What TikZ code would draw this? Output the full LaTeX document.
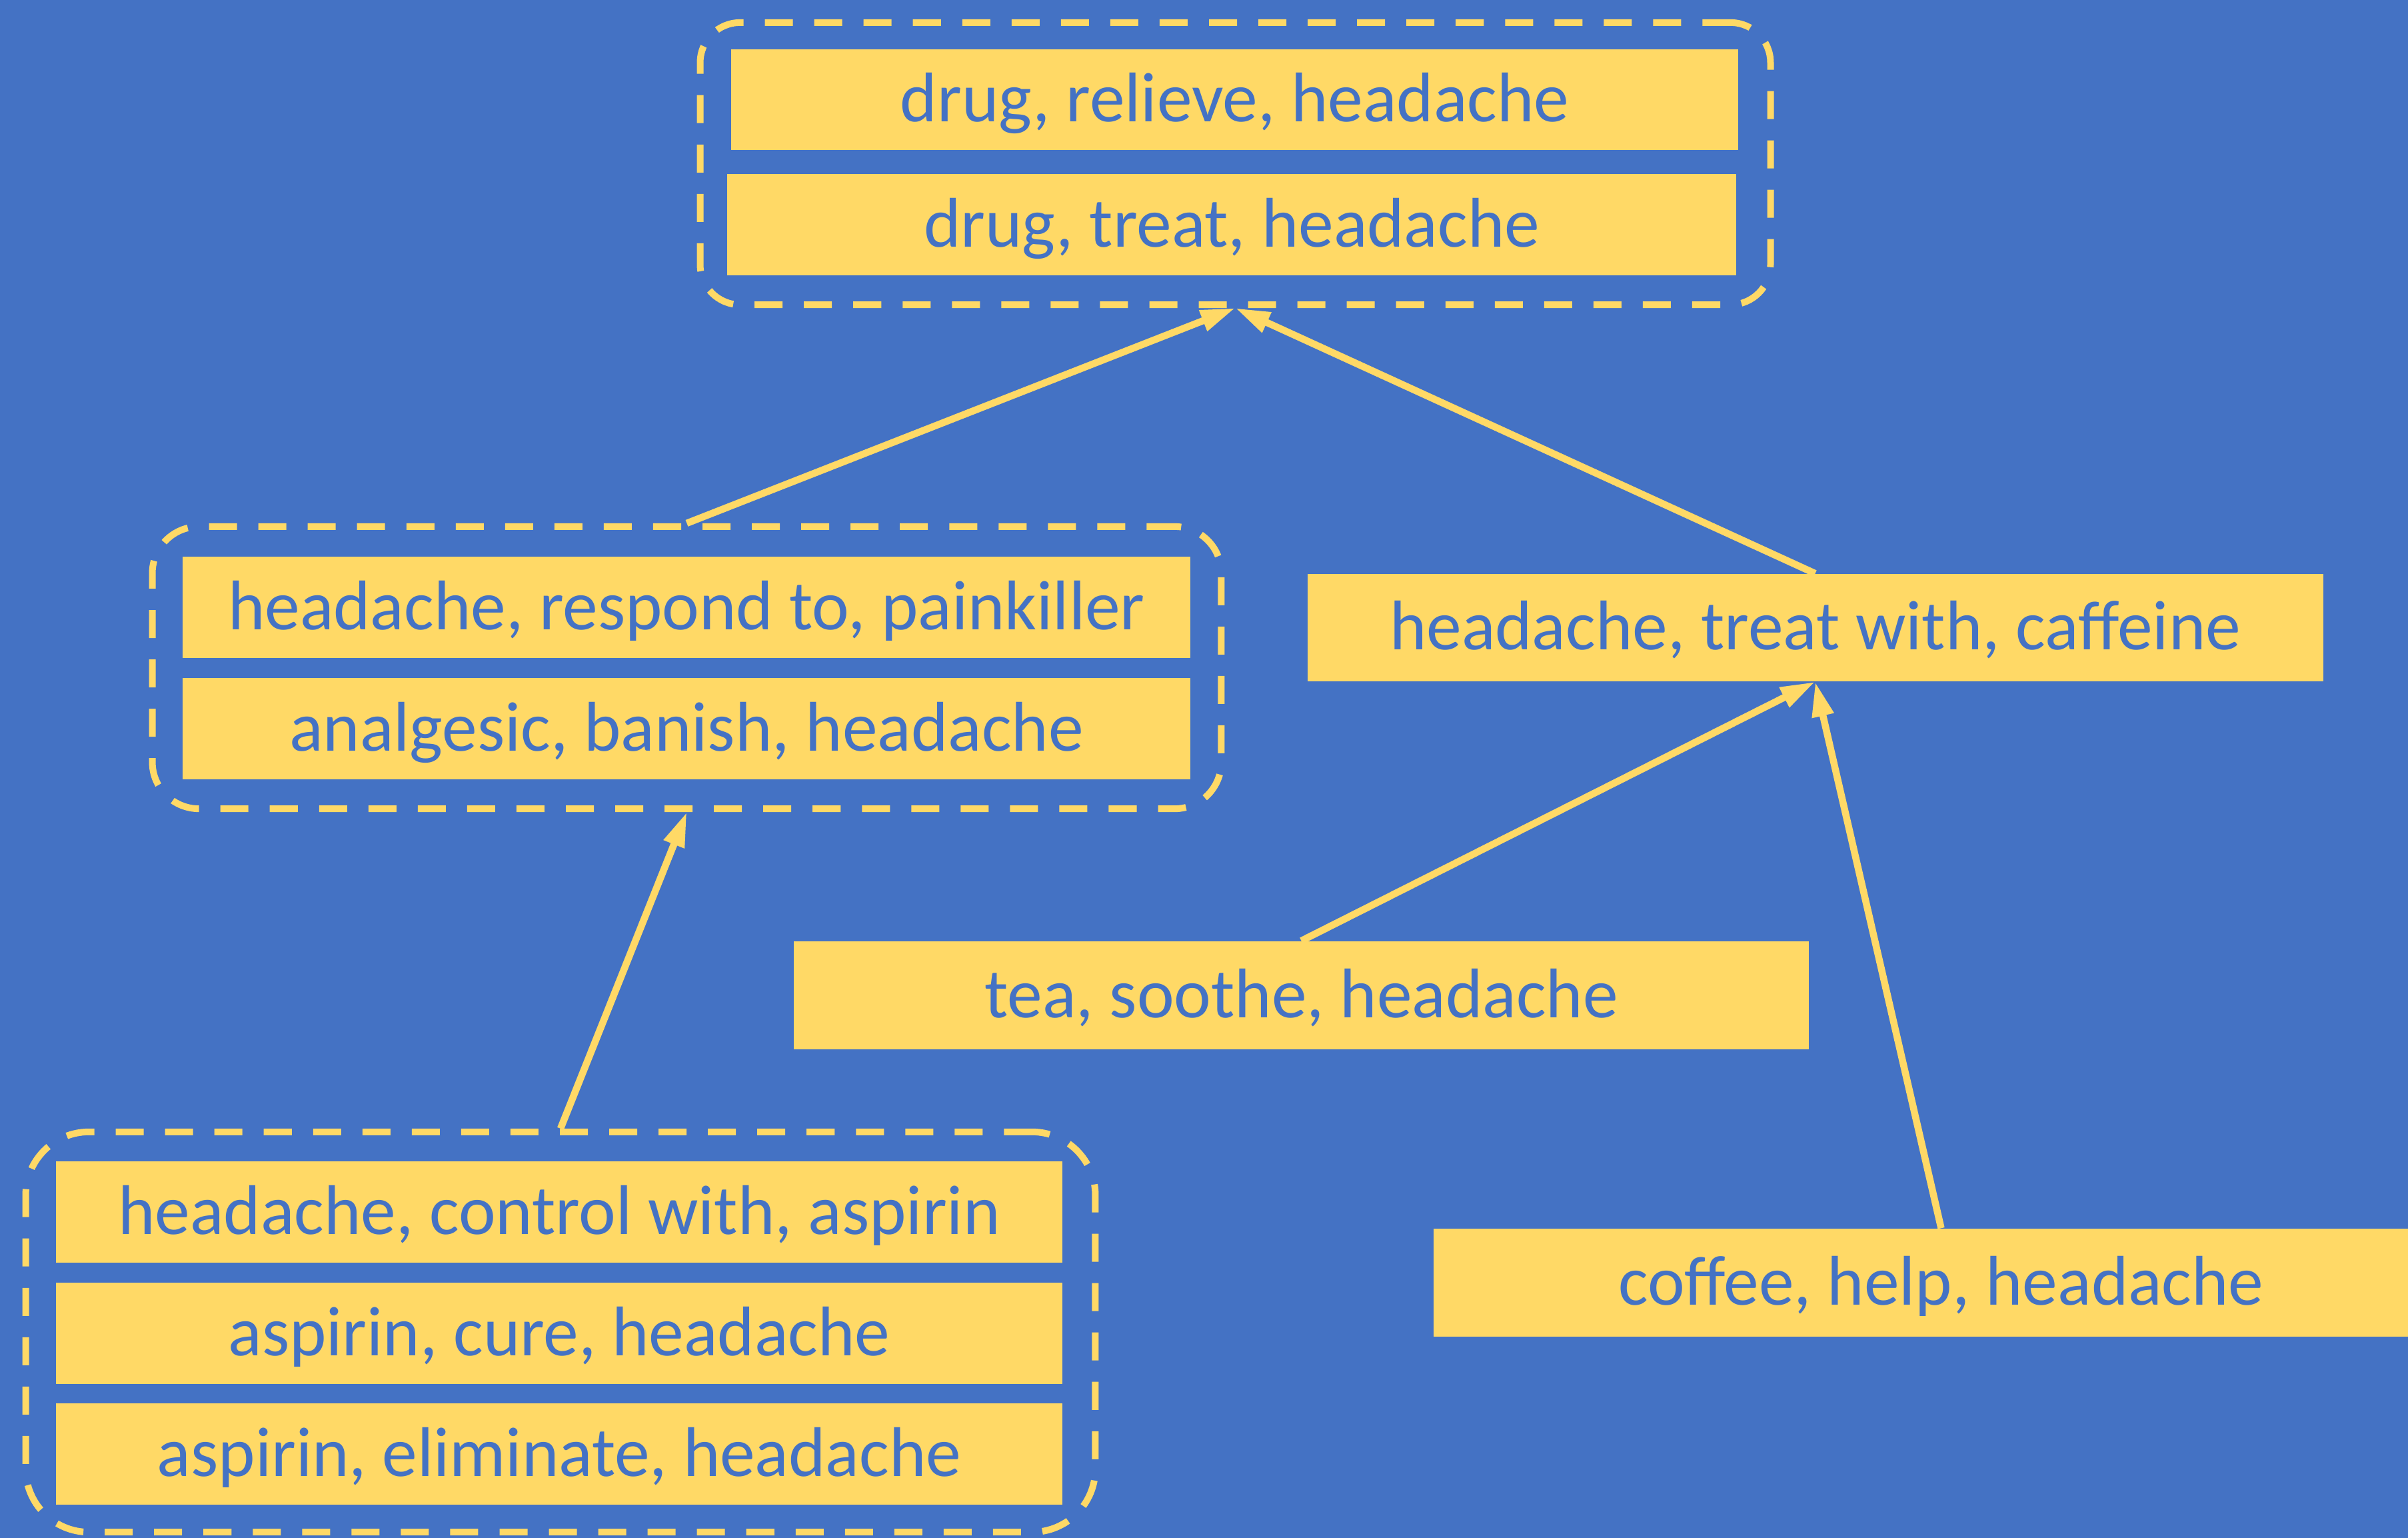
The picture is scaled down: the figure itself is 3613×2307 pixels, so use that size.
\documentclass[tikz,border=0pt]{standalone}
\usepackage{fontspec}
\setmainfont{Carlito}
\usetikzlibrary{arrows.meta}
\definecolor{bg}{HTML}{4472C4}
\definecolor{gold}{HTML}{FFD966}
\begin{document}
\begin{tikzpicture}[x=0.01cm,y=-0.01cm,
  box/.style={fill=gold, text=bg, inner sep=0pt, minimum height=1.52cm,
    font=\fontsize{30}{36}\selectfont, text height=24pt, text depth=5.1pt, anchor=center},
  grp/.style={draw=gold, line width=0.1cm, dash pattern=on 0.42cm off 0.32cm,
    rounded corners=0.7cm, inner sep=0pt, anchor=center},
  arr/.style={draw=gold, line width=0.105cm, -{Triangle[length=0.52cm,width=0.31cm]}}]
\useasboundingbox (0,0) rectangle (3613,2307);
\clip (0,0) rectangle (3613,2307);
\fill[bg] (0,0) rectangle (3613,2307);
% groups
\node[grp, minimum width=16.05cm, minimum height=4.23cm, rounded corners=0.6cm] (gtop) at (1853.5,245.5) {};
\node[grp, minimum width=16.03cm, minimum height=4.23cm] (gmid) at (1030.5,1001.5) {};
\node[grp, minimum width=16.04cm, minimum height=6.00cm, rounded corners=0.95cm] (gbot) at (841,1998) {};
% boxes
\node[box, minimum width=15.11cm, minimum height=1.51cm] (t1) at (1852.5,149.5) {drug, relieve, headache};
\node[box, minimum width=15.14cm] (t2) at (1848,337) {drug, treat, headache};
\node[box, minimum width=15.12cm] (m1) at (1030,911) {headache, respond to, painkiller};
\node[box, minimum width=15.12cm] (m2) at (1030,1093) {analgesic, banish, headache};
\node[box, minimum width=15.23cm, minimum height=1.61cm] (caf) at (2723.5,941.5) {headache, treat with, caffeine};
\node[box, minimum width=15.23cm, minimum height=1.62cm] (tea) at (1952.5,1493) {tea, soothe, headache};
\node[box, minimum width=15.23cm, minimum height=1.62cm] (cof) at (2912.5,1924) {coffee, help, headache};
\node[box, minimum width=15.10cm] (b1) at (839,1818) {headache, control with, aspirin};
\node[box, minimum width=15.10cm] (b2) at (839,2000) {aspirin, cure, headache};
\node[box, minimum width=15.10cm] (b3) at (839,2181) {aspirin, eliminate, headache};
% arrows
\draw[arr] (gmid.north) -- (gtop.south);
\draw[arr] (caf.north) -- (gtop.south);
\draw[arr] (gbot.north) -- (gmid.south);
\draw[arr] (tea.north) -- (caf.south);
\draw[arr] (cof.north) -- (caf.south);
\end{tikzpicture}
\end{document}
